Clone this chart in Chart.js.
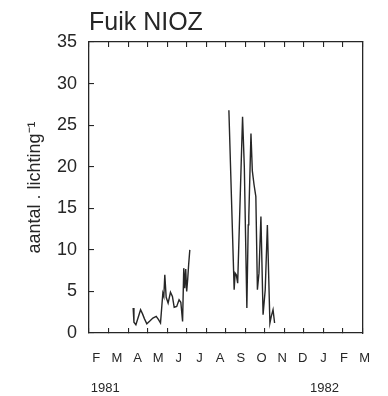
<!DOCTYPE html>
<html>
<head>
<meta charset="utf-8">
<script src="https://cdn.jsdelivr.net/npm/chart.js@4"></script>
<style>
  html, body { margin: 0; padding: 0; background: #fff; }
  #wrap { width: 388px; height: 396px; position: relative; }
</style>
</head>
<body>
<div id="wrap"><canvas id="myChart"></canvas></div>
<script>
// month tick labels, Feb 1981 .. Mar 1982
const monthLabels = ["F", "M", "A", "M", "J", "J", "A", "S", "O", "N", "D", "J", "F", "M"];
const yearLabels = ["1981", "1982"];
const yearLabelMonths = [0, 11];

// x = months since 1 Feb 1981
const springMonths = [2.26, 2.30, 2.40, 2.52, 2.64, 2.74, 2.84, 2.96, 3.10, 3.27, 3.44, 3.56, 3.66,
  3.73, 3.78, 3.83, 3.88, 3.95, 4.05, 4.17, 4.27, 4.36, 4.49, 4.61, 4.70, 4.79, 4.85, 4.90, 4.95,
  5.00, 5.05, 5.10, 5.16];
const springCounts = [3.0, 1.3, 1.0, 1.9, 2.8, 2.3, 1.7, 1.1, 1.4, 1.8, 2.0, 1.6, 1.2,
  3.3, 4.8, 4.4, 7.0, 4.3, 3.6, 4.9, 4.4, 3.1, 3.2, 4.0, 3.7, 1.4, 7.8, 5.4, 7.7,
  5.0, 6.4, 8.2, 10.0];

const autumnMonths = [7.16, 7.43, 7.48, 7.54, 7.61, 7.86, 7.95, 8.08, 8.15, 8.18, 8.29, 8.36,
  8.45, 8.54, 8.62, 8.70, 8.80, 8.91, 9.02, 9.13, 9.26, 9.33, 9.42, 9.50];
const autumnCounts = [26.8, 5.2, 7.2, 7.0, 6.0, 26.0, 20.0, 3.0, 13.0, 14.0, 24.0, 19.5,
  17.8, 16.4, 5.2, 7.2, 14.0, 2.2, 5.2, 13.0, 1.2, 2.0, 2.8, 1.2];

const ink = "#262626";
const font = "'Liberation Sans', Arial, sans-serif";

const toPoints = (xs, ys) => xs.map((x, i) => ({ x: x, y: ys[i] }));
const fixHeight = (h) => (scale) => { scale.height = h; };
const fixWidth = (w) => (scale) => { scale.width = w; };

const lineStyle = {
  borderColor: ink,
  borderWidth: 1.4,
  pointRadius: 0,
  tension: 0,
  fill: false,
};

const data = {
  datasets: [
    { label: "voorjaar", data: toPoints(springMonths, springCounts), ...lineStyle },
    { label: "najaar", data: toPoints(autumnMonths, autumnCounts), ...lineStyle },
  ],
};

const frame = { color: ink, width: 1.3 };
const inwardTicks = { drawOnChartArea: false, tickLength: -5, color: ink, lineWidth: 1.1 };

const config = {
  type: "line",
  data: data,
  options: {
    responsive: true,
    maintainAspectRatio: false,
    animation: false,
    layout: { padding: { top: 0, right: 10, bottom: 0, left: 0 } },
    plugins: {
      legend: { display: false },
      tooltip: { enabled: false },
      title: {
        display: true,
        text: "Fuik NIOZ",
        align: "start",
        fullSize: false,
        color: ink,
        font: { family: font, size: 25, weight: "normal", lineHeight: 1.2 },
        padding: { top: 8, bottom: 4 },
      },
    },
    scales: {
      x: {
        type: "linear",
        position: "bottom",
        weight: 0,
        min: 0,
        max: 14,
        ticks: { display: false, stepSize: 1 },
        grid: inwardTicks,
        border: frame,
        afterFit: fixHeight(0),
      },
      xt: {
        type: "linear",
        position: "top",
        min: 0,
        max: 14,
        ticks: { display: false, stepSize: 1 },
        grid: inwardTicks,
        border: frame,
        afterFit: fixHeight(0),
      },
      xm: {
        type: "linear",
        position: "bottom",
        weight: 1,
        min: -0.353,
        max: 12.896,
        afterBuildTicks: (scale) => {
          scale.ticks = monthLabels.map((_, i) => ({ value: i }));
        },
        ticks: {
          autoSkip: false,
          maxRotation: 0,
          padding: 18,
          color: ink,
          font: { family: font, size: 13 },
          callback: (v) => monthLabels[v],
        },
        grid: { display: false, drawTicks: false },
        border: { display: false },
        afterFit: fixHeight(40),
      },
      xy: {
        type: "linear",
        position: "bottom",
        weight: 2,
        min: -0.818,
        max: 12.91,
        afterBuildTicks: (scale) => {
          scale.ticks = yearLabelMonths.map((m) => ({ value: m }));
        },
        ticks: {
          autoSkip: false,
          maxRotation: 0,
          padding: 8,
          color: ink,
          font: { family: font, size: 13 },
          callback: (v, i) => yearLabels[i],
        },
        grid: { display: false, drawTicks: false },
        border: { display: false },
        afterFit: fixHeight(23),
      },
      y: {
        position: "left",
        min: 0,
        max: 35,
        ticks: {
          stepSize: 5,
          padding: 17,
          color: ink,
          font: { family: font, size: 18 },
        },
        grid: inwardTicks,
        border: frame,
        title: {
          display: true,
          text: "aantal . lichting⁻¹",
          color: ink,
          font: { family: font, size: 18 },
          padding: { top: 24, bottom: 0 },
        },
        afterFit: fixWidth(89),
      },
      yr: {
        position: "right",
        min: 0,
        max: 35,
        ticks: { display: false },
        grid: { display: false },
        border: frame,
        afterFit: fixWidth(0),
      },
    },
  },
};

new Chart(document.getElementById("myChart"), config);
</script>
</body>
</html>
